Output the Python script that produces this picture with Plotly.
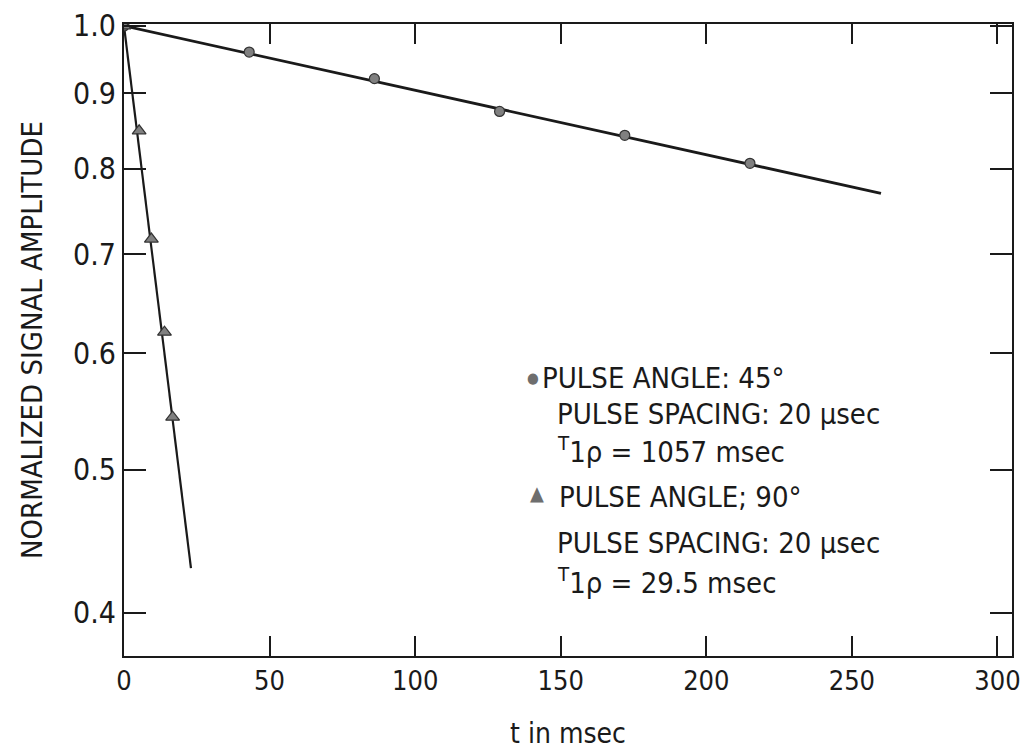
import plotly.graph_objects as go
import math

# Data
t_45 = [0, 43, 86, 129, 172, 215]
amp_45 = [1.0, 0.960, 0.921, 0.875, 0.843, 0.807]
fit_45_t = [0, 260]
fit_45_amp = [1.0, 0.770]

t_90 = [0, 5.2, 9.4, 13.9, 16.7]
amp_90 = [1.0, 0.849, 0.717, 0.620, 0.543]
fit_90_t = [0, 23]
fit_90_amp = [1.0, 0.429]

x_ticks = [0, 50, 100, 150, 200, 250, 300]
y_ticks = [0.4, 0.5, 0.6, 0.7, 0.8, 0.9, 1.0]
y_tick_labels = ["0.4", "0.5", "0.6", "0.7", "0.8", "0.9", "1.0"]

legend_lines = [
    ("PULSE ANGLE: 45°", 540, 378),
    ("PULSE SPACING: 20 μsec", 555, 414),
    ("<sup>T</sup>1ρ = 1057 msec", 555, 450),
    ("PULSE ANGLE; 90°", 557, 497),
    ("PULSE SPACING: 20 μsec", 555, 543),
    ("<sup>T</sup>1ρ = 29.5 msec", 555, 581),
]
legend_symbols = [("●", 533, 378, 15), ("▲", 537, 493, 20)]

FONT = "DejaVu Sans Condensed, Liberation Sans Narrow, sans-serif"
INK = "#1a1a1a"
W, H = 1024, 754
ML, MR, MT, MB = 124, 12, 24, 98


def px_to_paper(px, py):
    return (px - ML) / (W - ML - MR), (H - MB - py) / (H - MT - MB)


fig = go.Figure()
fig.add_trace(go.Scatter(x=fit_45_t, y=fit_45_amp, mode="lines",
                         line=dict(color=INK, width=2.8), showlegend=False))
fig.add_trace(go.Scatter(x=fit_90_t, y=fit_90_amp, mode="lines",
                         line=dict(color=INK, width=2.2), showlegend=False))
fig.add_trace(go.Scatter(x=t_45, y=amp_45, mode="markers",
                         marker=dict(symbol="circle", size=10, color="#808080",
                                     line=dict(color="#333333", width=1.2)),
                         showlegend=False))
fig.add_trace(go.Scatter(x=t_90, y=amp_90, mode="markers",
                         marker=dict(symbol="triangle-up", size=12, color="#808080",
                                     line=dict(color="#333333", width=1.2)),
                         showlegend=False))

fig.update_xaxes(range=[0, 305], tickvals=x_ticks, ticks="inside", ticklen=20,
                 tickwidth=1.5, tickcolor=INK, showline=True, linewidth=2,
                 linecolor=INK, mirror="ticks", showgrid=False, zeroline=False,
                 ticklabeloverflow="allow", ticklabelstandoff=0, automargin=False,
                 tickfont=dict(family=FONT, size=27, color=INK),
                 title=dict(text="t in msec", font=dict(family=FONT, size=28, color=INK),
                            standoff=28))
fig.update_yaxes(type="log", range=[math.log10(0.374), math.log10(1.003)],
                 tickvals=y_ticks, ticktext=y_tick_labels, ticks="inside", ticklen=22,
                 tickwidth=1.5, tickcolor=INK, showline=True, linewidth=2,
                 linecolor=INK, mirror="ticks", showgrid=False, zeroline=False,
                 automargin=False,
                 tickfont=dict(family=FONT, size=30, color=INK),
                 title=dict(text="NORMALIZED SIGNAL AMPLITUDE",
                            font=dict(family=FONT, size=29, color=INK), standoff=22))

for text, px, py in legend_lines:
    xp, yp = px_to_paper(px, py)
    fig.add_annotation(text=text, xref="paper", yref="paper", x=xp, y=yp,
                       xanchor="left", yanchor="middle", showarrow=False, align="left",
                       font=dict(family=FONT, size=29, color=INK))
for sym, px, py, sz in legend_symbols:
    xp, yp = px_to_paper(px, py)
    fig.add_annotation(text=sym, xref="paper", yref="paper", x=xp, y=yp,
                       xanchor="center", yanchor="middle", showarrow=False,
                       font=dict(family=FONT, size=sz, color="#6e6e6e"))

fig.update_layout(width=W, height=H, plot_bgcolor="white", paper_bgcolor="white",
                  margin=dict(l=ML, r=MR, t=MT, b=MB))
fig.write_html("out.html")
